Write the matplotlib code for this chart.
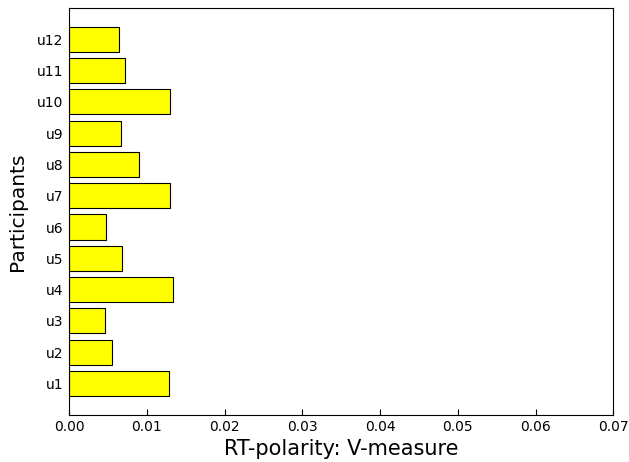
import matplotlib
matplotlib.use("Agg")
import matplotlib.pyplot as plt

# participants and their V-measure scores
participants = ['u1', 'u2', 'u3', 'u4', 'u5', 'u6',
                'u7', 'u8', 'u9', 'u10', 'u11', 'u12']
vmeasure = [0.0129, 0.0055, 0.0046, 0.0133, 0.0068, 0.0048,
            0.0130, 0.0090, 0.0067, 0.0130, 0.0072, 0.0064]
xticks = [0.00, 0.01, 0.02, 0.03, 0.04, 0.05, 0.06, 0.07]

fig, ax = plt.subplots(figsize=(6.29, 4.62), dpi=100)
pos = range(1, len(participants) + 1)
ax.barh(pos, vmeasure, height=0.8, color='yellow', edgecolor='black', linewidth=0.8)

ax.set_yticks(list(pos))
ax.set_yticklabels(participants, fontsize=10)
ax.set_ylim(0, len(participants) + 1)
ax.set_xlim(0, 0.07)
ax.set_xticks(xticks)
ax.set_xticklabels(['%.2f' % t for t in xticks], fontsize=10)
ax.tick_params(axis='x', direction='in', length=4)
ax.tick_params(axis='y', length=0, pad=4)

ax.set_xlabel('RT-polarity: V-measure', fontsize=15)
ax.set_ylabel('Participants', fontsize=14.5, labelpad=7)

plt.subplots_adjust(left=0.11, right=0.975, top=0.983, bottom=0.102)
plt.savefig('out.png')
